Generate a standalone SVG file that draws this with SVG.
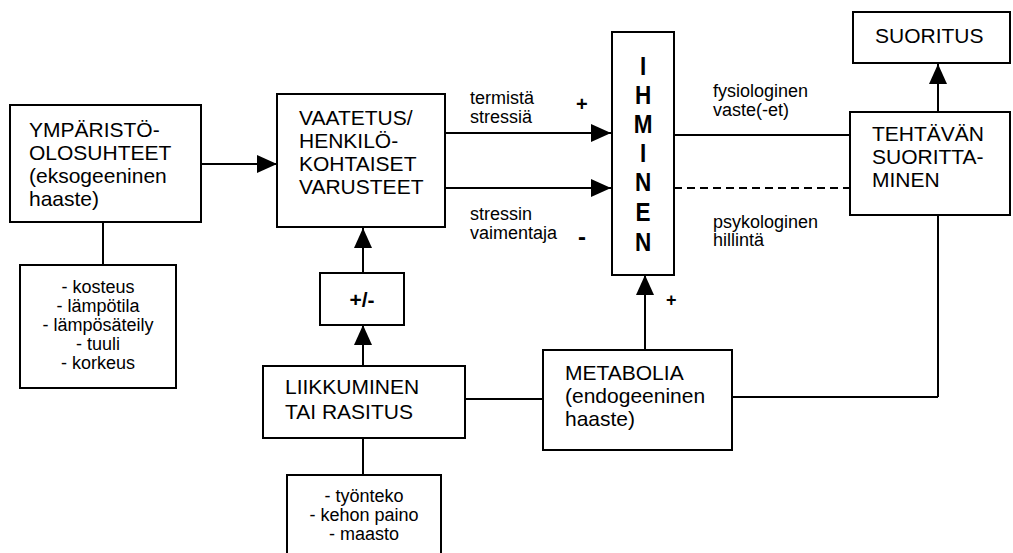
<svg xmlns="http://www.w3.org/2000/svg" width="1013" height="553" viewBox="0 0 1013 553">
<style>
rect{fill:#fff;stroke:#000;stroke-width:2}
text{font-family:"Liberation Sans",Arial,sans-serif;fill:#000}
.b{font-size:21px}
.s{font-size:18px}
.c{text-anchor:middle}
.big{font-size:25px;font-weight:bold;text-anchor:middle}
.ln{stroke:#000;stroke-width:2;fill:none}
</style>
<defs>
<marker id="ah" markerUnits="userSpaceOnUse" markerWidth="21" markerHeight="20" refX="20" refY="9" orient="auto" viewBox="0 0 21 18">
<path d="M0,0 L20,9 L0,18 z" fill="#000"/>
</marker>
</defs>
<rect width="1013" height="553" style="fill:#fff;stroke:none"/>
<g id="connectors">
<line class="ln" x1="201" y1="164" x2="277" y2="164" marker-end="url(#ah)"/>
<line class="ln" x1="103" y1="222" x2="103" y2="265"/>
<line class="ln" x1="445" y1="133" x2="611" y2="133" marker-end="url(#ah)"/>
<line class="ln" x1="445" y1="188" x2="611" y2="188" marker-end="url(#ah)"/>
<line class="ln" x1="674" y1="135" x2="850" y2="135"/>
<line class="ln" x1="674" y1="188" x2="850" y2="188" stroke-dasharray="8,5"/>
<line class="ln" x1="938" y1="112" x2="938" y2="64" marker-end="url(#ah)"/>
<line class="ln" x1="938" y1="215" x2="938" y2="397"/>
<line class="ln" x1="938" y1="397" x2="732" y2="397"/>
<line class="ln" x1="645" y1="350" x2="645" y2="275" marker-end="url(#ah)"/>
<line class="ln" x1="465" y1="399" x2="543" y2="399"/>
<line class="ln" x1="363" y1="366" x2="363" y2="325" marker-end="url(#ah)"/>
<line class="ln" x1="363" y1="273" x2="363" y2="228" marker-end="url(#ah)"/>
<line class="ln" x1="363" y1="438" x2="363" y2="475"/>
<text class="s" x="470" y="104">termistä</text>
<text class="s" x="470" y="123">stressiä</text>
<text class="s" x="576" y="111" style="font-weight:bold;font-size:20px">+</text>
<text class="s" x="470" y="220">stressin</text>
<text class="s" x="470" y="239">vaimentaja</text>
<text class="s" x="578" y="245" style="font-weight:bold;font-size:24px">-</text>
<text class="s" x="713" y="97">fysiologinen</text>
<text class="s" x="713" y="116">vaste(-et)</text>
<text class="s" x="713" y="228">psykologinen</text>
<text class="s" x="713" y="246">hillintä</text>
<text class="s" x="666" y="306" style="font-weight:bold">+</text>
</g>
<g id="ymparisto">
<rect x="10" y="105" width="191" height="117"/>
<text class="b" x="29" y="137">YMPÄRISTÖ-</text>
<text class="b" x="29" y="160">OLOSUHTEET</text>
<text class="b" x="29" y="183">(eksogeeninen</text>
<text class="b" x="29" y="206">haaste)</text>
</g>
<g id="tekijat">
<rect x="20" y="265" width="156" height="123"/>
<text class="s c" x="98" y="293">- kosteus</text>
<text class="s c" x="98" y="312">- lämpötila</text>
<text class="s c" x="98" y="331">- lämpösäteily</text>
<text class="s c" x="98" y="350">- tuuli</text>
<text class="s c" x="98" y="369">- korkeus</text>
</g>
<g id="vaatetus">
<rect x="277" y="94" width="168" height="133"/>
<text class="b" x="299" y="125">VAATETUS/</text>
<text class="b" x="299" y="148">HENKILÖ-</text>
<text class="b" x="299" y="171">KOHTAISET</text>
<text class="b" x="299" y="194">VARUSTEET</text>
</g>
<g id="plusminus">
<rect x="320" y="273" width="84" height="52"/>
<text class="b c" x="362" y="307" style="font-weight:bold">+/-</text>
</g>
<g id="ihminen">
<rect x="612" y="32" width="62" height="243"/>
<g transform="translate(643,0) scale(0.9,1)">
<text class="big" x="0" y="75">I</text>
<text class="big" x="0" y="104">H</text>
<text class="big" x="0" y="133">M</text>
<text class="big" x="0" y="162">I</text>
<text class="big" x="0" y="191">N</text>
<text class="big" x="0" y="221">E</text>
<text class="big" x="0" y="251">N</text>
</g>
</g>
<g id="suoritus">
<rect x="853" y="12" width="157" height="51"/>
<text class="b" x="875" y="43">SUORITUS</text>
</g>
<g id="tehtavan">
<rect x="850" y="112" width="160" height="103"/>
<text class="b" x="872" y="141">TEHTÄVÄN</text>
<text class="b" x="872" y="164">SUORITTA-</text>
<text class="b" x="872" y="187">MINEN</text>
</g>
<g id="liikkuminen">
<rect x="263" y="366" width="202" height="72"/>
<text class="b" x="285" y="394">LIIKKUMINEN</text>
<text class="b" x="285" y="419">TAI RASITUS</text>
</g>
<g id="metabolia">
<rect x="543" y="350" width="189" height="100"/>
<text class="b" x="565" y="380">METABOLIA</text>
<text class="b" x="565" y="403">(endogeeninen</text>
<text class="b" x="565" y="426">haaste)</text>
</g>
<g id="rasitustekijat">
<rect x="287" y="475" width="154" height="80"/>
<text class="s c" x="364" y="502">- työnteko</text>
<text class="s c" x="364" y="521">- kehon paino</text>
<text class="s c" x="364" y="540">- maasto</text>
</g>
</svg>
